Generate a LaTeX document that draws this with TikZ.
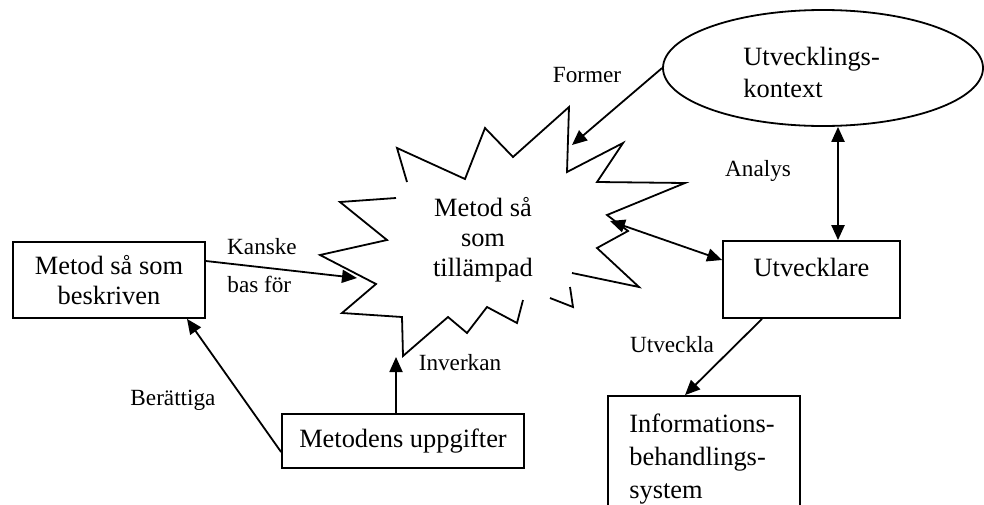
\documentclass[tikz,border=0pt]{standalone}
\usepackage{fontspec}
\setmainfont{Liberation Serif}
\usetikzlibrary{shapes.geometric,arrows.meta}
\begin{document}
\begin{tikzpicture}[x=0.5pt,y=-0.5pt,
  lw/.style={line width=0.9pt},
  box/.style={draw,lw,rectangle,inner sep=0pt},
  main/.style={font=\fontsize{13.2}{15}\selectfont},
  lbl/.style={font=\fontsize{11.6}{14}\selectfont,inner sep=0pt},
  arr/.style={lw,-{Triangle[length=7.5pt,width=6.5pt]}},
  dbl/.style={lw,{Triangle[length=7.5pt,width=6.5pt]}-{Triangle[length=7.5pt,width=6.5pt]}}]
\useasboundingbox (0,0) rectangle (984,504);
\clip (0,0) rectangle (984,504);
% ellipse
\node[ellipse,draw,lw,minimum width=160pt,minimum height=58pt,inner sep=0pt] (ctx) at (823,68) {};
\node[align=left,anchor=west,inner sep=0pt,font=\fontsize{13.2}{16}\selectfont] (ctxtext) at (743,72) {Utvecklings-\\kontext};
% star
\draw[lw] (407,182) -- (397,148) -- (465,179) -- (485,128) -- (513,157) -- (569,107) -- (567,172) -- (623,143) -- (597,182) -- (685,183) -- (607,215) -- (628,231) -- (597,248) -- (639,287) -- (572,273);
\draw[lw] (570,287) -- (573,307) -- (550,298);
\draw[lw] (523,300) -- (517,323) -- (487,307) -- (467,333) -- (448,317) -- (403,356) -- (402,317) -- (342,313) -- (376,284) -- (320,255) -- (387,240) -- (340,202) -- (396,198);
\node[main,align=center,inner sep=0pt] (star) at (483,240) {Metod så\\som\\tillämpad};
% boxes
\node[box,main,align=center,minimum width=96pt,minimum height=38pt] (desc) at (109,280) {Metod så som\\beskriven};
\node[box,main,minimum width=121pt,minimum height=27pt] (tasks) at (403,441) {Metodens uppgifter};
\node[box,minimum width=88.5pt,minimum height=38.5pt,label={[main,anchor=center,yshift=-13.5pt]north:Utvecklare}] (dev) at (811.5,279.5) {};
\node[box,minimum width=96pt,minimum height=67pt] (info) at (704,463) {};
\node[align=left,anchor=west,inner sep=0pt,font=\fontsize{13.2}{16.5}\selectfont] (infotext) at (629,459) {Informations-\\behandlings-\\system};
% tips on star
\coordinate (tFormer) at (572,145);
\coordinate (tKanske) at (357,278);
\coordinate (tStarR) at (610,221);
\coordinate (tInverkan) at (396,357);
% arrows
\draw[arr] (ctx.west) -- (tFormer);
\draw[arr] ([yshift=9.5pt]desc.east) -- (tKanske);
\draw[dbl] (tStarR) -- ([yshift=9.75pt]dev.west);
\draw[dbl,line width=1.1pt] ([xshift=7.5pt]ctx.south) -- ([xshift=13.25pt]dev.north);
\draw[arr] ([xshift=-24.75pt]dev.south) -- ([xshift=-9.5pt]info.north);
\draw[arr] ([xshift=-3.5pt]tasks.north) -- (tInverkan);
\draw[arr] ([yshift=-5.5pt]tasks.west) -- ([xshift=39pt]desc.south);
% labels
\node[lbl] (lFormer) at (587,75) {Former};
\node[lbl] (lKanske) at (262,247) {Kanske};
\node[lbl,anchor=west] (lBas) at (227,284) {bas för};
\node[lbl] (lAnalys) at (758,171) {Analys};
\node[lbl] (lUtv) at (672,345) {Utveckla};
\node[lbl] (lInv) at (460,363) {Inverkan};
\node[lbl] (lBer) at (173,400) {Berättiga};
\end{tikzpicture}
\end{document}
